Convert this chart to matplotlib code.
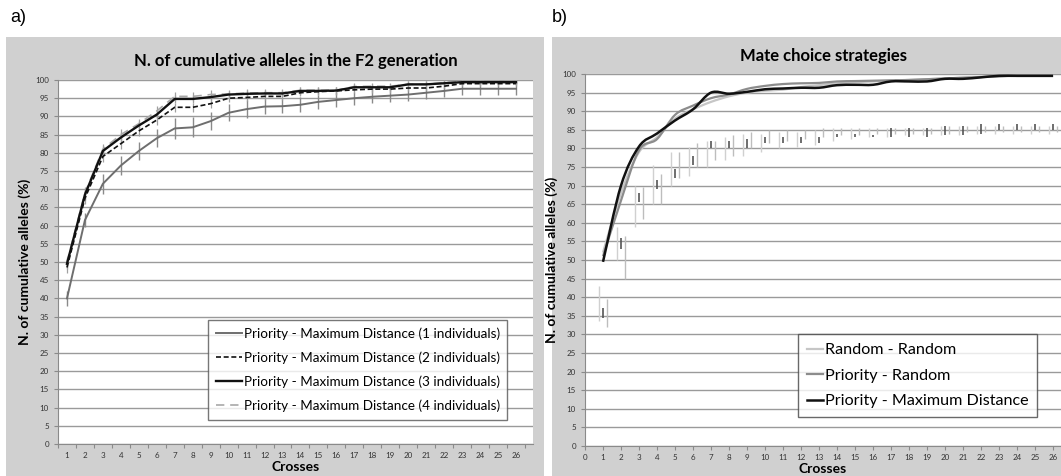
import matplotlib

matplotlib.use("Agg")
import matplotlib.pyplot as plt  # noqa: E402
import numpy as np  # noqa: E402
from matplotlib.lines import Line2D  # noqa: E402
from matplotlib.patches import PathPatch, Rectangle  # noqa: E402
from matplotlib.path import Path  # noqa: E402

plt.rcParams["font.family"] = ["Lato", "DejaVu Sans"]

W, H = 1061, 476

# ---- panel a) data --------------------------------------------------------
crosses_a = list(range(1, 27))
ind1 = [40, 61.5, 71.5, 76.5, 80.5, 84, 86.7, 87, 88.7, 91, 92, 92.7, 92.8,
        93.2, 94, 94.5, 95, 95.4, 95.7, 96, 96.5, 97, 97.6, 97.6, 97.6, 97.6]
ind2 = [48.5, 67.5, 79, 82.5, 86, 89, 92.5, 92.5, 93.5, 95, 95.2, 95.5, 95.5,
        96.5, 96.8, 97, 97.3, 97.5, 97.5, 97.8, 97.8, 98.3, 99, 99, 99, 99]
ind3 = [49.5, 68.5, 80.5, 84.2, 87.5, 90.5, 94.8, 94.8, 95.3, 96, 96.2, 96.3,
        96.3, 97, 97, 97.1, 98, 98, 98, 98.8, 98.8, 99.1, 99.4, 99.4, 99.4, 99.4]
ind4 = [50, 69, 81, 85, 88, 91.5, 95.5, 95.5, 96, 96.2, 96.4, 96.5, 96.5,
        97.2, 97.2, 97.2, 98.2, 98.3, 98.3, 98.8, 98.8, 99.3, 99.6, 99.6, 99.6, 99.6]
err1 = [2, 2, 2.8, 2.6, 2.5, 2.5, 2.8, 2.7, 2.5, 2.3, 2.4, 2, 2, 2.1, 2, 1.8,
        1.8, 1.8, 1.8, 1.7, 1.7, 1.7, 1.8, 1.8, 1.8, 1.8]
err_hi = [1.5, 1.5, 1.5, 1.5, 1.3, 1.3, 1.2, 1.2, 1.2, 1, 1, 1, 1, 1, 1, 1,
          1, 1, 1, 0.8, 0.8, 0.8, 0.6, 0.6, 0.6, 0.6]

legend_a = [
    "Priority - Maximum Distance (1 individuals)",
    "Priority - Maximum Distance (2 individuals)",
    "Priority - Maximum Distance (3 individuals)",
    "Priority - Maximum Distance (4 individuals)",
]

# ---- panel b) data --------------------------------------------------------
crosses_b = list(range(1, 27))
random_random = [52, 68, 79, 83, 88, 90.5, 92.5, 94, 95, 95.5, 95.8, 96.5, 97,
                 97.5, 97.8, 98, 98.2, 98.4, 98.6, 98.8, 99, 99.2, 99.4, 99.5, 99.5, 99.5]
priority_random = [51, 66, 79.5, 82.5, 89, 91.5, 93.5, 94.5, 96, 96.8, 97.3,
                   97.5, 97.6, 98, 98.1, 98.2, 98.3, 98.4, 98.6, 98.8, 99,
                   99.2, 99.4, 99.5, 99.5, 99.5]
priority_maxdist = [49.5, 70, 80.5, 84, 87.5, 90.5, 95, 94.7, 95.2, 95.9, 96.1,
                    96.3, 96.3, 97, 97.1, 97.1, 98, 98, 98, 98.7, 98.7, 99.1,
                    99.5, 99.5, 99.5, 99.5]

# error bar ranges (low, high) for each strategy
rr_lo = [33.5, 50, 59, 65, 70, 72.5, 75, 77, 78, 79, 80, 80.5, 81, 82, 82.5,
         83, 83, 83.5, 83.5, 83.5, 83.5, 84, 84, 84, 84, 84]
rr_hi = [43, 59, 70, 75.5, 79, 80.5, 82, 83, 84, 84, 84.5, 84.5, 85, 85.5,
         85.5, 85.5, 85.5, 85.5, 85.5, 86, 86, 86, 86, 86, 86, 86]
md_lo = [34.5, 53, 65.5, 69, 72, 75.5, 80, 80, 80, 81.5, 81.5, 81.5, 81.5, 83,
         83, 83, 83, 83, 83, 83.5, 83.5, 84, 85, 85, 85, 85]
md_hi = [37, 56, 68, 71.5, 74.5, 78, 82, 82, 82.5, 83, 83, 83, 83, 84, 83.8,
         83.7, 85.5, 85.5, 85.5, 86, 86, 86.5, 86.5, 86.5, 86.5, 86.5]
pr_lo = [32, 45, 61, 65, 72, 75, 77, 78, 80, 81.5, 82, 82.5, 83, 83.5, 83.5,
         84, 84, 84, 84, 84, 84.5, 84.5, 84.5, 84.5, 84.5, 84.5]
pr_hi = [39.5, 56.5, 69.5, 73, 79, 81.5, 82, 83.5, 84.5, 85, 85, 85, 85.5,
         85.5, 85.5, 85.5, 85.5, 85.5, 85.5, 86, 86, 86, 86, 86, 86, 86]

legend_b = ["Random - Random", "Priority - Random", "Priority - Maximum Distance"]


def fx(px):
    return px / W


def fy(py):
    return 1 - py / H


def style_axes(ax):
    ax.set_facecolor("white")
    ax.set_ylim(0, 100)
    ax.set_yticks(range(0, 101, 5))
    ax.grid(axis="y", color="#9a9a9a", linewidth=1.0)
    ax.set_axisbelow(True)
    for side in ("top", "right"):
        ax.spines[side].set_visible(False)
    for side in ("left", "bottom"):
        ax.spines[side].set_color("#8a8a8a")
    ax.tick_params(axis="both", labelsize=5.8, colors="#8a8a8a",
                   labelcolor="#333333", length=3, width=0.8)
    ax.set_ylabel("N. of cumulative alleles (%)", fontsize=10, fontweight="bold",
                  labelpad=3)
    ax.set_xlabel("Crosses", fontsize=10, fontweight="bold", labelpad=1)


def smooth_path(x, y, tension=1 / 6):
    # Excel-like smoothed line: cubic Bezier segments through the data points
    x = np.asarray(x, float)
    y = np.asarray(y, float)
    verts = [(x[0], y[0])]
    codes = [Path.MOVETO]
    n = len(x)
    for i in range(n - 1):
        p0 = (x[max(i - 1, 0)], y[max(i - 1, 0)])
        p1 = (x[i], y[i])
        p2 = (x[i + 1], y[i + 1])
        p3 = (x[min(i + 2, n - 1)], y[min(i + 2, n - 1)])
        c1 = (p1[0] + (p2[0] - p0[0]) * tension, p1[1] + (p2[1] - p0[1]) * tension)
        c2 = (p2[0] - (p3[0] - p1[0]) * tension, p2[1] - (p3[1] - p1[1]) * tension)
        verts += [c1, c2, p2]
        codes += [Path.CURVE4] * 3
    return Path(verts, codes)


fig = plt.figure(figsize=(W / 100, H / 100), dpi=100)
fig.patch.set_facecolor("white")

# grey chart-area panels
fig.add_artist(Rectangle((fx(6), 0), fx(544) - fx(6), fy(37), transform=fig.transFigure,
                         facecolor="#d0d0d0", edgecolor="none", zorder=0))
fig.add_artist(Rectangle((fx(552), 0), 1 - fx(552), fy(37), transform=fig.transFigure,
                         facecolor="#d0d0d0", edgecolor="none", zorder=0))

fig.text(fx(10), fy(17), "a)", fontsize=13, va="center", ha="left",
         family=["Liberation Sans", "DejaVu Sans"])
fig.text(fx(552), fy(17), "b)", fontsize=13, va="center", ha="left",
         family=["Liberation Sans", "DejaVu Sans"])

# ---- panel a ---------------------------------------------------------------
ax_a = fig.add_axes([fx(58), fy(444), fx(533) - fx(58), fy(80) - fy(444)])
style_axes(ax_a)
ax_a.set_xlim(0.5, 26.95)
ax_a.set_xticks(crosses_a)
ax_a.set_xticks(np.arange(0.5, 27, 1), minor=True)
ax_a.tick_params(axis="x", which="major", length=0, pad=6)
ax_a.tick_params(axis="x", which="minor", length=3, colors="#8a8a8a", width=0.8)
ax_a.set_title("N. of cumulative alleles in the F2 generation", fontsize=12,
               fontweight="bold", pad=10)

xa = np.array(crosses_a)
ax_a.errorbar(xa, ind1, yerr=err1, fmt="none", ecolor="#8a8a8a", elinewidth=1.0,
              capsize=0, zorder=2)
for vals in (ind2, ind3, ind4):
    ax_a.errorbar(xa, vals, yerr=err_hi, fmt="none", ecolor="#a0a0a0",
                  elinewidth=0.9, capsize=0, zorder=2)

ax_a.plot(xa, ind1, color="#6e6e6e", linewidth=1.4, label=legend_a[0], zorder=3)
ax_a.plot(xa, ind2, color="#111111", linewidth=1.2, linestyle=(0, (3, 1.6)),
          label=legend_a[1], zorder=4)
ax_a.plot(xa, ind3, color="#111111", linewidth=1.7, label=legend_a[2], zorder=5)
ax_a.plot(xa, ind4, color="#a8a8a8", linewidth=1.2, linestyle=(0, (5, 3.5)),
          label=legend_a[3], zorder=4)

leg_a = ax_a.legend(loc="lower right", bbox_to_anchor=(0.946, 0.067), fontsize=9.7,
                    frameon=True, fancybox=False, handlelength=2.0, handletextpad=0.1,
                    labelspacing=0.85, borderpad=0.55, borderaxespad=0)
leg_a.get_frame().set_edgecolor("#555555")
leg_a.get_frame().set_linewidth(1.0)

# ---- panel b ---------------------------------------------------------------
ax_b = fig.add_axes([fx(585), fy(446), 1 - fx(585), fy(74) - fy(446)])
style_axes(ax_b)
ax_b.set_xlim(0, 26.44)
ax_b.set_xticks(range(0, 27))
ax_b.tick_params(axis="x", pad=3)
ax_b.set_title("Mate choice strategies", fontsize=12, fontweight="bold", pad=9)

xb = np.array(crosses_b, float)
ax_b.vlines(xb - 0.2, rr_lo, rr_hi, color="#d0d0d0", linewidth=1.0, zorder=2)
ax_b.vlines(xb + 0.2, pr_lo, pr_hi, color="#bdbdbd", linewidth=1.0, zorder=2)
ax_b.vlines(xb, md_lo, md_hi, color="#555555", linewidth=1.2, zorder=2)

line_styles_b = [
    (random_random, "#c6c6c6", 1.6),
    (priority_random, "#8c8c8c", 1.6),
    (priority_maxdist, "#111111", 1.8),
]
handles_b = []
for (vals, color, lw), label in zip(line_styles_b, legend_b):
    ax_b.add_patch(PathPatch(smooth_path(xb, vals), facecolor="none", edgecolor=color,
                             linewidth=lw, zorder=3, clip_on=False))
    handles_b.append(Line2D([], [], color=color, linewidth=lw, label=label))

leg_b = ax_b.legend(handles=handles_b, loc="lower left", bbox_to_anchor=(0.448, 0.077),
                    fontsize=11.6, frameon=True, fancybox=False, handlelength=1.0,
                    handletextpad=0.1, labelspacing=0.7, borderpad=0.55,
                    borderaxespad=0)
leg_b.get_frame().set_edgecolor("#444444")
leg_b.get_frame().set_linewidth(1.0)

fig.savefig("out.png", dpi=100, facecolor="white")
plt.close(fig)
